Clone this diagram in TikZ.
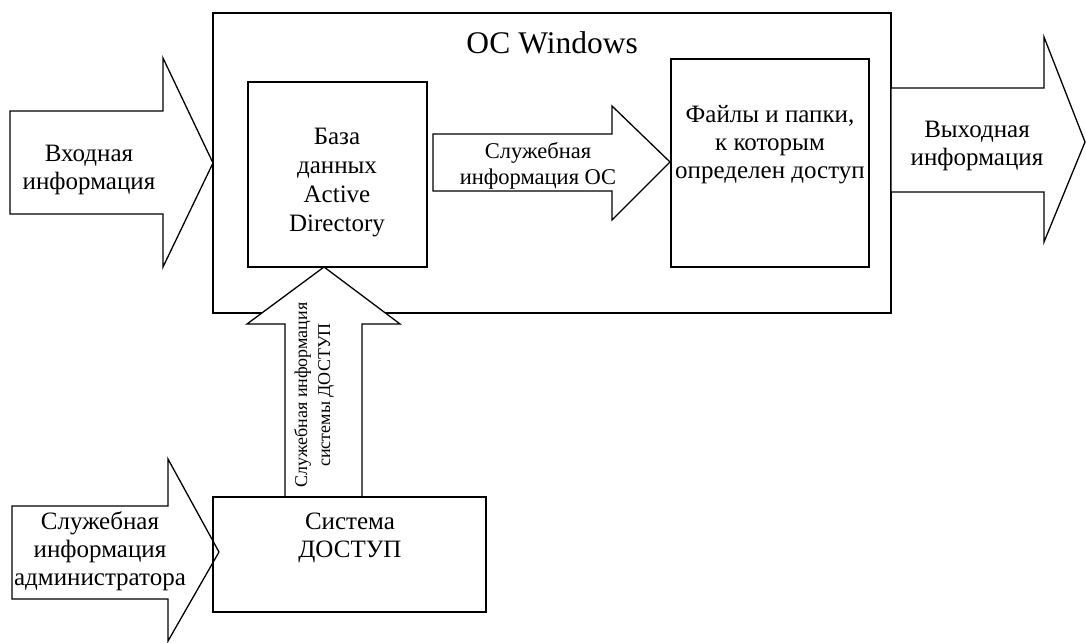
\documentclass[tikz,border=0pt]{standalone}
\usepackage{fontspec}
\setmainfont{Liberation Serif}[Script=Cyrillic,Ligatures=TeX]
\begin{document}
\begin{tikzpicture}[x=1pt,y=-1pt,line width=1.3pt,line join=miter,
  box/.style={draw,anchor=north west,inner sep=0,outer sep=0},
  txt/.style={align=center,inner sep=0,font=\fontsize{25}{28}\selectfont},
  adfont/.style={align=center,inner sep=0,font=\fontsize{25}{29}\selectfont},
  midtxt/.style={align=center,inner sep=0,font=\fontsize{22.5}{26}\selectfont},
  rottxt/.style={align=center,inner sep=0,font=\fontsize{18}{23}\selectfont,rotate=90},
  titletxt/.style={inner sep=0,font=\fontsize{31.5}{34}\selectfont},
  bigarrow/.style={draw,fill=white}]
\useasboundingbox (0,0) rectangle (1086,642);
% OS box
\node[box,minimum width=678pt,minimum height=300pt] (os) at (213,13) {};
\node[titletxt] (ostitle) at (552,43) {ОС Windows};
% input arrow
\draw[bigarrow] (10,111) -- (163,111) -- (163,58) -- (213,163) -- (163,267) -- (163,214) -- (10,214) -- cycle;
\node[txt] (intxt) at (89,170) {Входная\\информация};
% AD box
\node[box,minimum width=179pt,minimum height=185pt] (ad) at (248,82) {};
\node[adfont,text depth=0pt] (adtxt) at (337,180) {База\\данных\\Active\\Directory};
% files box
\node[box,minimum width=198pt,minimum height=208pt] (files) at (671,59) {};
\node[txt] (filestxt) at (770,145) {Файлы и папки,\\к которым\\определен доступ};
% middle arrow
\draw[bigarrow] (433,134) -- (612,134) -- (612,106) -- (670,162) -- (612,220) -- (612,191) -- (433,191) -- cycle;
\node[midtxt] (midtxt) at (538,166) {Служебная\\информация ОС};
% output arrow
\draw[bigarrow] (891,88) -- (1044,88) -- (1044,37) -- (1085,142) -- (1044,242) -- (1044,192) -- (891,192) -- cycle;
\node[txt] (outtxt) at (977,146) {Выходная\\информация};
% vertical arrow
\draw[bigarrow] (285,497) -- (285,324) -- (247,324) -- (324,267) -- (400,324) -- (362,324) -- (362,497) -- cycle;
\node[rottxt] (vtxt) at (314,395) {Служебная информация\\системы ДОСТУП};
% bottom-left arrow
\draw[bigarrow] (12,506) -- (168,506) -- (168,459) -- (219,552) -- (168,641) -- (168,599) -- (12,599) -- cycle;
\node[txt] (bltxt) at (100,551) {Служебная\\информация\\администратора};
% system box
\node[box,minimum width=273pt,minimum height=115pt] (sys) at (213,497) {};
\node[txt] (systxt) at (350,538) {Система\\ДОСТУП};
\end{tikzpicture}
\end{document}
